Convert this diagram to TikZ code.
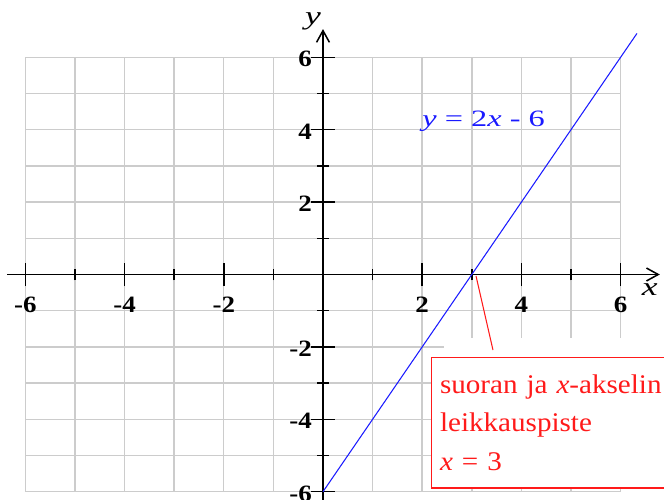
\documentclass[tikz,border=0pt]{standalone}
\usepackage{fontspec}
\setmainfont{Liberation Serif}
\usetikzlibrary{arrows.meta,calc,positioning}
\newfontfamily\lukufont[FakeStretch=1.15]{Liberation Serif}
\newfontfamily\yhtalofont[FakeStretch=1.38]{Liberation Serif}
\newfontfamily\selitefont[FakeStretch=1.08]{Liberation Serif}
\definecolor{harmaa}{HTML}{CCCCCC}
\definecolor{sininen}{HTML}{1A1AFF}
\definecolor{punainen}{HTML}{FF1A1A}
\tikzset{
  ruudukko/.style={draw=harmaa,line width=1.2pt,xstep=1.488cm,ystep=1.086cm},
  akseli/.style={->,line width=1.3pt},
  luku/.style={font={\lukufont\bfseries\fontsize{20pt}{24pt}\selectfont},inner sep=0pt},
  nimi/.style={font={\yhtalofont\itshape\fontsize{22pt}{24pt}\selectfont},inner sep=0pt},
  laatikko/.style={draw=punainen,fill=white,line width=1.2pt,text=punainen,
    font={\selitefont\fontsize{23pt}{32.6pt}\selectfont}}
}
\begin{document}
\begin{tikzpicture}[x=1.488cm,y=1.086cm,>={Straight Barb[length=10pt,width=11pt]}]
        \clip (-6.512,-6.202) rectangle (6.875,7.583);
        \useasboundingbox (-6.512,-6.202) rectangle (6.875,7.583);
        \draw[ruudukko] (-6,-6) grid (6,6);
        \fill[white] (2.44,-1.76) rectangle (7,-2.3);
        \node[laatikko,anchor=north west,minimum width=7.5cm,minimum height=3.92cm,text width=7cm,align=left,inner xsep=6.5pt] (selite) at (2.177,-2.27) {suoran ja {\itshape x}-akselin\\leikkauspiste\\{\itshape x} = 3};
        \draw[akseli] (-6.37,0) -- (6.79,0);
        \draw[akseli] (0,-6.3) -- (0,6.78);
        \foreach \i in {-5,-3,...,5}{
          \draw[line width=1.3pt] (\i,0) ++(0,-5pt) -- ++(0,10pt);
          \draw[line width=1.3pt] (0,\i) ++(-5pt,0) -- ++(10pt,0);
        }
        \foreach \i in {-6,-4,-2,2,4,6}{
          \draw[line width=1.3pt] (\i,0) ++(0,-10pt) -- ++(0,20pt);
          \draw[line width=1.3pt] (0,\i) ++(-10pt,0) -- ++(20pt,0);
          \node[luku,anchor=base] (xl\i) at (\i,-1.036) {\i};
          \node[luku,anchor=base east] (yl\i) at (-0.22,\i-0.26) {\i};
        }
        \node[nimi] (xnimi) at (6.59,-0.43) {x};
        \node[nimi] (ynimi) at (-0.2,7.0) {y};
        \draw[sininen,line width=0.9pt] (0,-6) -- (6.33,6.66);
        \node[anchor=base west,inner sep=0pt,text=sininen,font={\yhtalofont\fontsize{20pt}{24pt}\selectfont}] (yhtalo) at (2.0,4.1) {{\itshape y} = 2{\itshape x} - 6};
        \coordinate (leikkaus) at (3.085,-0.04);
        \coordinate (viiva) at (3.427,-2.086);
        \draw[punainen,line width=0.9pt] (leikkaus) -- (viiva);
      \end{tikzpicture}
\end{document}
